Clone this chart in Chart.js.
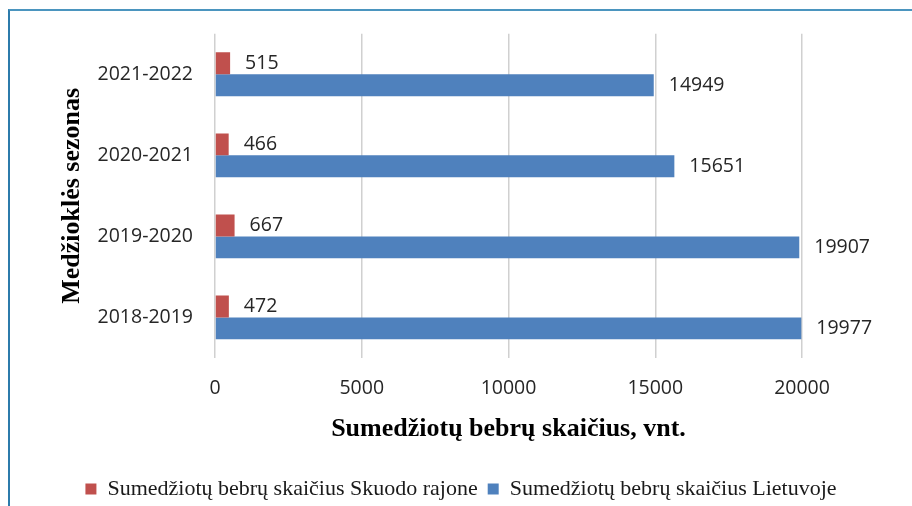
<!DOCTYPE html>
<html><head><meta charset="utf-8">
<script src="https://cdn.jsdelivr.net/npm/chart.js@4"></script>
<style>
html,body{margin:0;padding:0;background:#fff;}
#wrap{position:relative;width:912px;height:506px;overflow:hidden;}
#frame{position:absolute;left:8px;top:9px;width:1000px;height:600px;border-left:2px solid #2c7bab;border-top:2px solid #4b95bf;}
canvas{position:absolute;left:0;top:0;}
</style></head><body>
<div id="wrap"><div id="frame"></div><canvas id="c" width="912" height="506"></canvas></div>
<script>
const seasons = ['2018-2019','2019-2020','2020-2021','2021-2022'];
const skuodas = [472, 667, 466, 515];
const lietuva = [19977, 19907, 15651, 14949];
const xTicks = [0, 5000, 10000, 15000, 20000];
const seriesNames = ['Sumedžiotų bebrų skaičius Skuodo rajone', 'Sumedžiotų bebrų skaičius Lietuvoje'];
const xTitle = 'Sumedžiotų bebrų skaičius, vnt.';
const yTitle = 'Medžioklės sezonas';

const tickFont = {family: 'Open Sans', size: 19.5};
const serif = 'Liberation Serif';

const valueLabels = {
  id: 'valueLabels',
  afterDatasetsDraw(chart) {
    const ctx = chart.ctx;
    ctx.save();
    ctx.font = '19.5px "Open Sans"';
    ctx.fillStyle = '#262626';
    ctx.textAlign = 'left';
    ctx.textBaseline = 'middle';
    chart.data.datasets.forEach((ds, i) => {
      chart.getDatasetMeta(i).data.forEach((bar, j) => {
        ctx.fillText(String(ds.data[j]), bar.x + 15, bar.y);
      });
    });
    ctx.restore();
  }
};

new Chart(document.getElementById('c'), {
  type: 'bar',
  data: {
    labels: seasons,
    datasets: [
      {label: seriesNames[0], data: skuodas, backgroundColor: '#C0504D', barPercentage: 1, categoryPercentage: 0.54},
      {label: seriesNames[1], data: lietuva, backgroundColor: '#4F81BD', barPercentage: 1, categoryPercentage: 0.54}
    ]
  },
  options: {
    indexAxis: 'y',
    responsive: false,
    devicePixelRatio: 1,
    animation: false,
    layout: {padding: {left: 30, top: 28, right: 20, bottom: -4}},
    plugins: {
      tooltip: {enabled: false},
      legend: {
        position: 'bottom',
        labels: {
          boxWidth: 11, boxHeight: 11, padding: 10,
          color: '#1a1a1a',
          font: {family: serif, size: 22}
        }
      }
    },
    scales: {
      x: {
        min: 0, max: 20000,
        afterBuildTicks: s => { s.ticks = xTicks.map(v => ({value: v})); },
        afterFit: s => { s.height = 110; },
        grid: {color: '#d0d0d0', lineWidth: 1.5, drawTicks: false},
        border: {display: false},
        ticks: {font: tickFont, color: '#262626', padding: 19, callback: v => String(v)},
        title: {display: true, text: xTitle, color: '#000', padding: {top: 0, bottom: 23},
                font: {family: serif, size: 26, weight: 'bold'}}
      },
      y: {
        reverse: true,
        afterFit: s => { s.width = 185; },
        grid: {display: false, drawTicks: false},
        border: {display: false},
        ticks: {font: tickFont, color: '#262626', padding: 22},
        title: {display: true, text: yTitle, color: '#000', padding: {top: 27, bottom: 0},
                font: {family: serif, size: 26, weight: 'bold'}}
      },
      yRight: {
        type: 'category',
        position: 'right',
        labels: seasons,
        afterFit: s => { s.width = 90; },
        grid: {display: false, drawTicks: false},
        border: {display: false},
        ticks: {display: false}
      }
    }
  },
  plugins: [valueLabels]
});
</script>
</body></html>
